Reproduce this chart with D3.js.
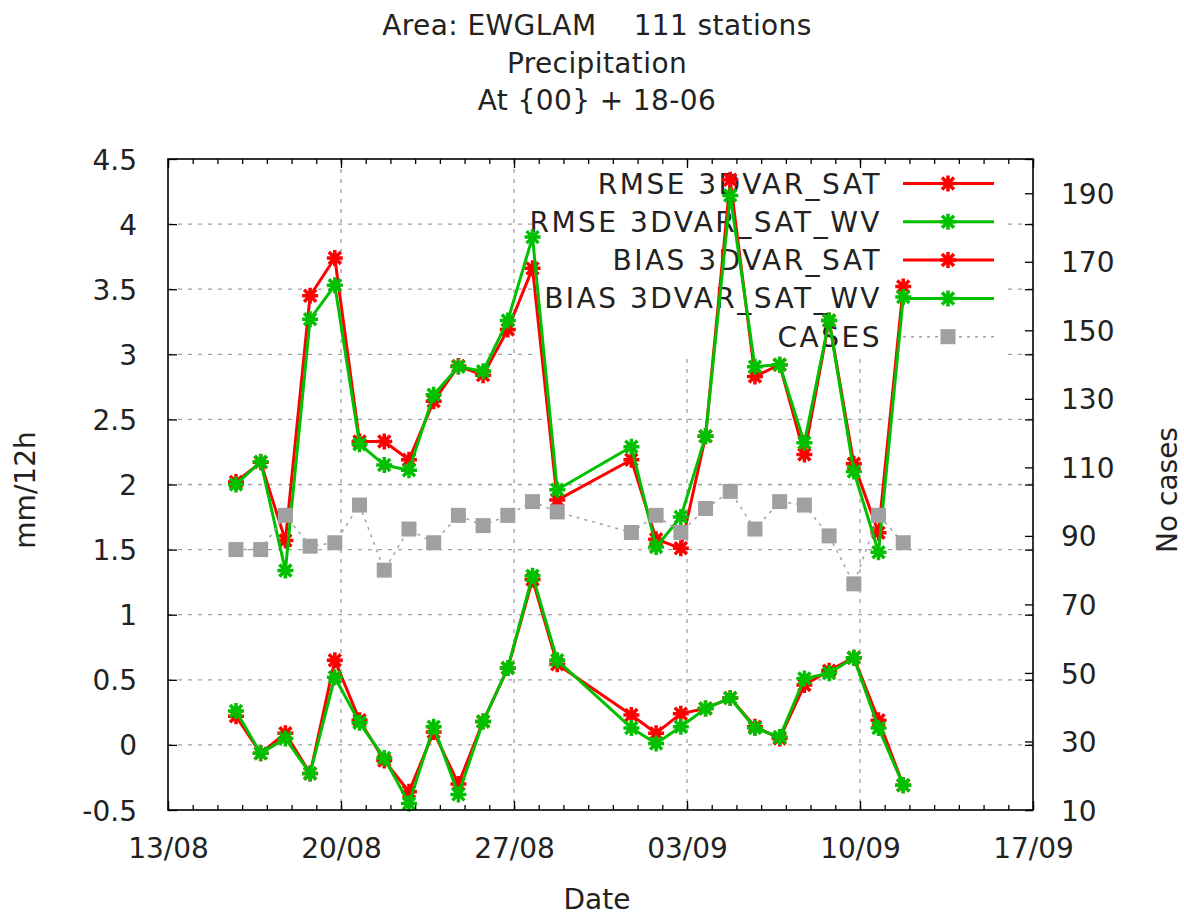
<!DOCTYPE html>
<html lang="en">
<head>
<meta charset="utf-8">
<title>EWGLAM precipitation</title>
<style>
  body { margin: 0; background: #fff; }
  svg text { font-family: "DejaVu Sans", sans-serif; fill: #222; }
  .grid line { stroke: #a0a0a0; stroke-width: 1.3; stroke-dasharray: 4,6; }
  .tick line { stroke: #000; stroke-width: 1.3; }
  .frame { fill: none; stroke: #000; stroke-width: 1.6; }
  .series { fill: none; stroke-width: 3; stroke-linejoin: round; }
  .cases-line { fill: none; stroke: #a0a0a0; stroke-width: 1.5; stroke-dasharray: 3,5; }
</style>
</head>
<body>
<div id="chart"></div>
<script src="https://d3js.org/d3.v7.min.js"></script>
<script>
// verification dates (18 UTC)
var dates = ["15/08","16/08","17/08","18/08","19/08","20/08","21/08","22/08","23/08","24/08",
             "25/08","26/08","27/08","28/08","31/08","01/09","02/09","03/09","04/09","05/09",
             "06/09","07/09","08/09","09/09","10/09","11/09"];

var rmseSat   = [2.02, 2.17, 1.57, 3.45, 3.74, 2.33, 2.33, 2.19, 2.64, 2.91, 2.84, 3.19, 3.66,
                 1.88, 2.19, 1.58, 1.51, 2.37, 4.34, 2.83, 2.92, 2.23, 3.26, 2.16, 1.63, 3.52];
var rmseSatWv = [2.00, 2.175, 1.34, 3.27, 3.53, 2.31, 2.15, 2.11, 2.69, 2.905, 2.87, 3.26, 3.90,
                 1.96, 2.29, 1.52, 1.75, 2.37, 4.22, 2.905, 2.92, 2.32, 3.26, 2.10, 1.48, 3.44];
var biasSat   = [0.22, -0.065, 0.09, -0.22, 0.65, 0.19, -0.12, -0.36, 0.10, -0.30, 0.18, 0.59, 1.27,
                 0.62, 0.23, 0.09, 0.24, 0.28, 0.36, 0.14, 0.05, 0.46, 0.57, 0.67, 0.19, -0.31];
var biasSatWv = [0.26, -0.065, 0.05, -0.22, 0.52, 0.17, -0.10, -0.45, 0.14, -0.38, 0.18, 0.59, 1.30,
                 0.65, 0.13, 0.01, 0.14, 0.28, 0.36, 0.13, 0.06, 0.51, 0.55, 0.67, 0.13, -0.31];
var cases     = [86, 86, 96, 87, 88, 99, 80, 92, 88, 96, 93, 96, 100,
                 97, 91, 96, 91, 98, 103, 92, 100, 99, 90, 76, 96, 88];

var titleLines = ["Area: EWGLAM    111 stations", "Precipitation", "At {00} + 18-06"];
var yTicks  = [-0.5, 0, 0.5, 1, 1.5, 2, 2.5, 3, 3.5, 4, 4.5];
var y2Ticks = [10, 30, 50, 70, 90, 110, 130, 150, 170, 190];

var W = 1184, H = 918,
    margin = {top: 159, right: 151, bottom: 108, left: 168},
    width = W - margin.left - margin.right,
    height = H - margin.top - margin.bottom;

var parse = d3.utcParse("%d/%m/%Y %H");
var t0 = parse("13/08/2012 00"), t1 = parse("17/09/2012 00");

var x = d3.scaleUtc().domain([t0, t1]).range([0, width]),
    y = d3.scaleLinear().domain([-0.5, 4.5]).range([height, 0]),
    y2 = d3.scaleLinear().domain([10, 200]).range([height, 0]);

var fmtY = function(d) { return String(+d.toFixed(1)); };

var series = [
  {name: "RMSE 3DVAR_SAT",    values: rmseSat,   color: "#ff0000"},
  {name: "RMSE 3DVAR_SAT_WV", values: rmseSatWv, color: "#00c000"},
  {name: "BIAS 3DVAR_SAT",    values: biasSat,   color: "#ff0000"},
  {name: "BIAS 3DVAR_SAT_WV", values: biasSatWv, color: "#00c000"}
];
var times = dates.map(function(s) { return parse(s + "/2012 18"); });

var svg = d3.select("#chart").append("svg")
    .attr("width", W).attr("height", H);

// title
svg.append("g").selectAll("text")
    .data(titleLines)
  .enter().append("text")
    .attr("x", 597)
    .attr("y", function(d, i) { return 35 + i * 37.5; })
    .attr("text-anchor", "middle")
    .style("font-size", "28px")
    .style("letter-spacing", "0.4px")
    .style("white-space", "pre")
    .text(function(d) { return d; });

var g = svg.append("g")
    .attr("transform", "translate(" + margin.left + "," + margin.top + ")");

// grid
var majorX = d3.utcDay.range(t0, new Date(+t1 + 1), 7);
var grid = g.append("g").attr("class", "grid");
grid.selectAll(".gx")
    .data(majorX.slice(1, -1))
  .enter().append("line")
    .attr("x1", function(d) { return x(d); })
    .attr("x2", function(d) { return x(d); })
    .attr("y1", 0).attr("y2", height);
grid.selectAll(".gy")
    .data(yTicks.slice(1, -1))
  .enter().append("line")
    .attr("x1", 0).attr("x2", width)
    .attr("y1", function(d) { return y(d); })
    .attr("y2", function(d) { return y(d); });

// key
var keyX = 882 - margin.left, sampleX0 = 903 - margin.left, sampleX1 = 994 - margin.left,
    sampleMid = 948 - margin.left;
var key = g.append("g").attr("class", "key");
key.append("rect")
    .attr("x", 533 - margin.left).attr("y", 1)
    .attr("width", 1005 - 533).attr("height", 357 - margin.top)
    .attr("fill", "#fff");

var keyItems = series.map(function(s) { return s.name; }).concat(["CASES"]);
var keyRow = function(i) { return 183.5 - margin.top + i * 38.3; };

key.selectAll("text")
    .data(keyItems)
  .enter().append("text")
    .attr("x", keyX)
    .attr("y", function(d, i) { return keyRow(i) + 10; })
    .attr("text-anchor", "end")
    .style("font-size", "28px")
    .style("letter-spacing", "2.5px")
    .text(function(d) { return d; });

var star = "M-8,0H8M0,-8V8M-6,-6L6,6M-6,6L6,-6";

series.forEach(function(s, i) {
  key.append("line")
      .attr("x1", sampleX0).attr("x2", sampleX1)
      .attr("y1", keyRow(i)).attr("y2", keyRow(i))
      .attr("stroke", s.color).attr("stroke-width", 3);
  key.append("path")
      .attr("d", star)
      .attr("transform", "translate(" + sampleMid + "," + keyRow(i) + ")")
      .attr("fill", "none").attr("stroke", s.color).attr("stroke-width", 3.5);
});
key.append("line")
    .attr("class", "cases-line")
    .attr("x1", sampleX0).attr("x2", sampleX1)
    .attr("y1", keyRow(4)).attr("y2", keyRow(4));
key.append("rect")
    .attr("x", sampleMid - 7.5).attr("y", keyRow(4) - 7.5)
    .attr("width", 15).attr("height", 15)
    .attr("fill", "#a0a0a0");

// data lines
var line = d3.line()
    .x(function(d, i) { return x(times[i]); })
    .y(function(d) { return y(d); });

series.forEach(function(s) {
  g.append("path")
      .datum(s.values)
      .attr("class", "series")
      .attr("stroke", s.color)
      .attr("d", line);
  g.append("g").selectAll("path")
      .data(s.values)
    .enter().append("path")
      .attr("d", star)
      .attr("transform", function(d, i) { return "translate(" + x(times[i]) + "," + y(d) + ")"; })
      .attr("fill", "none")
      .attr("stroke", s.color)
      .attr("stroke-width", 3.5);
});

var line2 = d3.line()
    .x(function(d, i) { return x(times[i]); })
    .y(function(d) { return y2(d); });

g.append("path")
    .datum(cases)
    .attr("class", "cases-line")
    .attr("d", line2);
g.append("g").selectAll("rect")
    .data(cases)
  .enter().append("rect")
    .attr("x", function(d, i) { return x(times[i]) - 7.5; })
    .attr("y", function(d) { return y2(d) - 7.5; })
    .attr("width", 15).attr("height", 15)
    .attr("fill", "#a0a0a0");

// axes
var noDomain = function(sel) { sel.select(".domain").remove(); };
var minorX = d3.utcDay.range(t0, new Date(+t1 + 1));

g.append("g")
    .attr("transform", "translate(0," + height + ")")
    .call(d3.axisBottom(x).tickValues(minorX).tickSize(-5).tickFormat(""))
    .call(noDomain);
g.append("g")
    .call(d3.axisTop(x).tickValues(minorX).tickSize(-5).tickFormat(""))
    .call(noDomain);

var xAxis = g.append("g")
    .attr("transform", "translate(0," + height + ")")
    .call(d3.axisBottom(x).tickValues(majorX).tickSize(-9).tickPadding(28)
      .tickFormat(d3.utcFormat("%d/%m")))
    .call(noDomain);
xAxis.selectAll("text").style("font-size", "28px").attr("dy", "0").attr("y", 48);

g.append("g")
    .call(d3.axisTop(x).tickValues(majorX).tickSize(-9).tickFormat(""))
    .call(noDomain);

var yAxis = g.append("g")
    .call(d3.axisLeft(y).tickValues(yTicks).tickSize(-9).tickPadding(31).tickFormat(fmtY))
    .call(noDomain);
yAxis.selectAll("text").style("font-size", "28px").attr("dy", "0.36em");

g.append("g")
    .attr("transform", "translate(" + width + ",0)")
    .call(d3.axisRight(y).tickValues(yTicks).tickSize(-8).tickFormat(""))
    .call(noDomain);

var y2Axis = g.append("g")
    .attr("transform", "translate(" + width + ",0)")
    .call(d3.axisRight(y2).tickValues(y2Ticks).tickSize(-8).tickPadding(28))
    .call(noDomain);
y2Axis.selectAll("text").style("font-size", "28px").attr("dy", "0.36em");

g.selectAll("g").attr("font-family", null).attr("font-size", null);
g.selectAll(".tick text").attr("fill", null);

g.append("rect")
    .attr("class", "frame")
    .attr("width", width)
    .attr("height", height);

// axis labels
svg.append("text")
    .attr("transform", "translate(35,490) rotate(-90)")
    .attr("text-anchor", "middle")
    .style("font-size", "28px")
    .text("mm/12h");
svg.append("text")
    .attr("transform", "translate(1177,490) rotate(-90)")
    .attr("text-anchor", "middle")
    .style("font-size", "28px")
    .text("No cases");
svg.append("text")
    .attr("x", 597).attr("y", 909)
    .attr("text-anchor", "middle")
    .style("font-size", "28px")
    .text("Date");
</script>
</body>
</html>
